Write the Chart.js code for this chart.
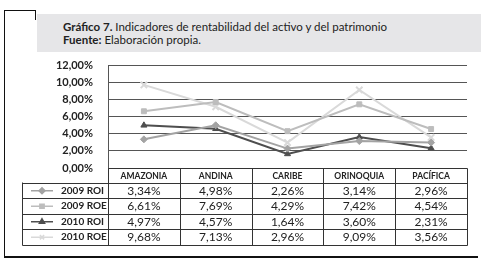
<!DOCTYPE html>
<html lang="es">
<head>
<meta charset="UTF-8">
<title>Gráfico 7. Indicadores de rentabilidad</title>
<script src="https://cdn.jsdelivr.net/npm/chart.js"></script>
<style>
  body { margin: 0; background: #fff; font-family: Lato, "Open Sans", sans-serif; }
  #wrap { position: relative; width: 485px; height: 267px; overflow: hidden; }
  #chart { position: absolute; left: 0; top: 0; }
  .ln { position: absolute; background: #111; }
  #titulo {
    position: absolute; left: 37px; top: 14px; width: 444px; height: 38px;
    background: #e6e6e8; box-sizing: border-box; padding: 6px 0 0 26px;
    font-size: 11.5px; line-height: 13px; color: #222; z-index: 2;
  }
</style>
</head>
<body>
<div id="wrap">
  <canvas id="chart" width="485" height="267"></canvas>
  <div class="ln" style="left:4px;top:10px;width:1px;height:248px;"></div>
  <div class="ln" style="left:4px;top:10px;width:32px;height:1px;"></div>
  <div class="ln" style="left:35px;top:10px;width:1px;height:10px;"></div>
  <div class="ln" style="left:4px;top:256px;width:474px;height:2px;"></div>
  <div id="titulo">
    <b>Gráfico 7.</b> Indicadores de rentabilidad del activo y del patrimonio<br>
    <b>Fuente:</b> Elaboración propia.
  </div>
</div>
<script>
  const categorias = ['AMAZONIA', 'ANDINA', 'CARIBE', 'ORINOQUIA', 'PACÍFICA'];
  const nombres = ['2009 ROI', '2009 ROE', '2010 ROI', '2010 ROE'];
  const roi2009 = [3.34, 4.98, 2.26, 3.14, 2.96];
  const roe2009 = [6.61, 7.69, 4.29, 7.42, 4.54];
  const roi2010 = [4.97, 4.57, 1.64, 3.60, 2.31];
  const roe2010 = [9.68, 7.13, 2.96, 9.09, 3.56];
  const yTicks = [0, 2, 4, 6, 8, 10, 12];

  const colores = ['#a3a3a3', '#bdbdbd', '#4e4e4e', '#d9d9d9'];
  const marcas = ['rectRot', 'rect', 'triangle', 'crossRot'];
  const valores = [roi2009, roe2009, roi2010, roe2010];

  const pct = v => v.toFixed(2).replace('.', ',') + '%';

  // tabla de datos debajo del grafico, alineada con la escala x
  const tablaPlugin = {
    id: 'tabla',
    afterDraw(chart) {
      const { ctx, chartArea } = chart;
      const x = chart.scales.x;
      const colW = (chartArea.right - chartArea.left) / categorias.length;
      const top = Math.round(chartArea.bottom) + 0.5;
      const headBottom = top + 14;
      const rowH = 15.5;
      const bottom = headBottom + rowH * nombres.length;
      const left = 22.5;
      const plotL = Math.round(chartArea.left) + 0.5;
      const plotR = Math.round(chartArea.right) + 0.5;

      ctx.save();
      ctx.strokeStyle = '#333';
      ctx.lineWidth = 1;
      ctx.beginPath();
      ctx.moveTo(plotL, top); ctx.lineTo(plotR, top);
      for (let r = 0; r <= nombres.length; r++) {
        const y = Math.round(headBottom + r * rowH) + 0.5;
        ctx.moveTo(left, y); ctx.lineTo(plotR, y);
      }
      ctx.moveTo(left, headBottom); ctx.lineTo(left, Math.round(bottom) + 0.5);
      for (let i = 0; i <= categorias.length; i++) {
        const xx = Math.round(chartArea.left + i * colW) + 0.5;
        ctx.moveTo(xx, top); ctx.lineTo(xx, Math.round(bottom) + 0.5);
      }
      ctx.stroke();

      ctx.fillStyle = '#222';
      ctx.textAlign = 'center';
      ctx.textBaseline = 'middle';
      ctx.font = 'bold 8.5px Lato';
      categorias.forEach((c, i) => {
        ctx.fillText(c, x.getPixelForValue(i), top + 8);
      });

      ctx.font = '12px Lato';
      valores.forEach((serie, r) => {
        const y = headBottom + r * rowH + rowH / 2 + 0.5;
        serie.forEach((v, i) => ctx.fillText(pct(v), x.getPixelForValue(i), y));
      });

      ctx.textAlign = 'left';
      ctx.font = 'bold 10px Lato';
      nombres.forEach((n, r) => {
        const y = headBottom + r * rowH + rowH / 2 + 0.5;
        ctx.strokeStyle = colores[r];
        ctx.fillStyle = colores[r];
        ctx.lineWidth = 1.5;
        ctx.beginPath();
        ctx.moveTo(31, y); ctx.lineTo(53, y);
        ctx.stroke();
        Chart.helpers.drawPoint(ctx, {
          pointStyle: marcas[r], radius: 3, rotation: 0, borderWidth: r === 3 ? 1.5 : 1
        }, 42, y);
        ctx.fillStyle = '#222';
        ctx.fillText(n, 61, y);
      });
      ctx.restore();
    }
  };

  new Chart(document.getElementById('chart'), {
    type: 'line',
    data: {
      labels: categorias,
      datasets: nombres.map((n, k) => ({
        label: n,
        data: valores[k],
        borderColor: colores[k],
        backgroundColor: colores[k],
        borderWidth: 2,
        pointStyle: marcas[k],
        pointRadius: k === 3 ? 4.5 : 3.5,
        pointBorderWidth: k === 3 ? 2 : 1,
        fill: false,
        tension: 0
      }))
    },
    options: {
      responsive: false,
      animation: false,
      layout: { padding: { left: 0, right: 18, top: 65, bottom: 99 } },
      plugins: { legend: { display: false }, tooltip: { enabled: false } },
      scales: {
        x: { display: false, offset: true },
        y: {
          min: 0, max: 12,
          afterFit(scale) { scale.width = 108; },
          afterBuildTicks(scale) { scale.ticks = yTicks.map(v => ({ value: v })); },
          grid: { color: '#555', drawTicks: false, lineWidth: 1 },
          border: { display: true, color: '#555' },
          ticks: {
            padding: 15,
            color: '#222',
            font: { family: 'Lato', size: 11, weight: 'bold' },
            callback: v => pct(v)
          }
        }
      }
    },
    plugins: [tablaPlugin]
  });
</script>
</body>
</html>
